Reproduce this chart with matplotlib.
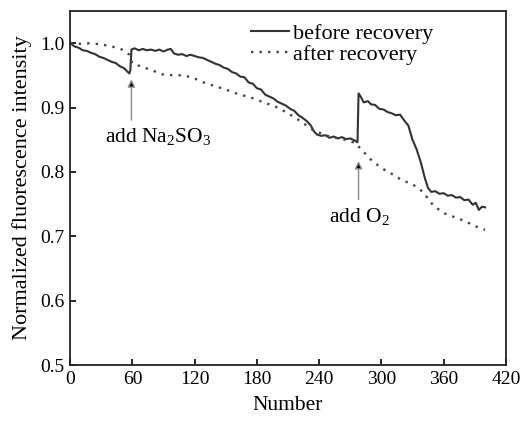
import matplotlib
matplotlib.use("Agg")
import matplotlib.pyplot as plt

plt.rcParams['font.family'] = ['Liberation Serif', 'DejaVu Serif']
plt.rcParams['mathtext.fontset'] = 'custom'
plt.rcParams['mathtext.rm'] = 'Liberation Serif'
plt.rcParams['mathtext.default'] = 'regular'

# --- data ---
before_n = [0, 4, 8, 12, 16, 20, 24, 28, 32, 36, 40, 44, 48, 52, 55, 57, 58, 59, 62,
            66, 70, 74, 78, 82, 86, 90, 94, 97, 100, 104, 108, 112, 116, 120, 124,
            128, 132, 136, 140, 144, 148, 152, 156, 160, 164, 168, 172, 176, 180,
            184, 188, 192, 196, 200, 204, 208, 212, 216, 220, 224, 228, 232, 235,
            238, 242, 246, 250, 254, 258, 262, 266, 270, 274, 277, 278, 280, 283,
            287, 290, 294, 298, 302, 306, 310, 314, 318, 322, 326, 330, 334, 338,
            342, 345, 348, 352, 356, 360, 364, 368, 372, 376, 380, 384, 388, 391,
            394, 397, 400]
before_v = [1.000, 0.995, 0.993, 0.989, 0.988, 0.985, 0.983, 0.979, 0.977, 0.974,
            0.971, 0.969, 0.964, 0.961, 0.956, 0.953, 0.958, 0.990, 0.992,
            0.989, 0.991, 0.989, 0.990, 0.988, 0.990, 0.987, 0.990, 0.991, 0.984,
            0.982, 0.983, 0.980, 0.982, 0.980, 0.978, 0.977, 0.974, 0.971, 0.968,
            0.966, 0.962, 0.960, 0.955, 0.953, 0.948, 0.947, 0.939, 0.937, 0.930,
            0.928, 0.920, 0.917, 0.914, 0.909, 0.906, 0.903, 0.898, 0.895, 0.888,
            0.884, 0.879, 0.872, 0.863, 0.858, 0.856, 0.857, 0.853, 0.855, 0.852,
            0.854, 0.851, 0.852, 0.849, 0.846, 0.922, 0.917, 0.908, 0.910, 0.905,
            0.904, 0.898, 0.897, 0.893, 0.891, 0.888, 0.889, 0.880, 0.872, 0.850,
            0.835, 0.815, 0.790, 0.775, 0.769, 0.770, 0.766, 0.767, 0.763, 0.764,
            0.760, 0.761, 0.756, 0.757, 0.749, 0.752, 0.741, 0.746, 0.745]

after_n = [0, 10, 20, 30, 40, 50, 57, 60, 70, 80, 90, 100, 110, 120, 130, 140, 150,
           160, 175, 190, 200, 210, 220, 235, 250, 265, 275, 280, 290, 300, 310,
           320, 330, 340, 350, 360, 370, 380, 390, 400]
after_v = [1.000, 0.999, 1.000, 0.998, 0.995, 0.990, 0.982, 0.968, 0.963, 0.957,
           0.951, 0.950, 0.950, 0.945, 0.938, 0.933, 0.928, 0.922, 0.915, 0.906,
           0.900, 0.891, 0.881, 0.864, 0.855, 0.850, 0.845, 0.836, 0.819, 0.806,
           0.797, 0.787, 0.781, 0.769, 0.748, 0.736, 0.730, 0.724, 0.716, 0.710]

xticks = [0, 60, 120, 180, 240, 300, 360, 420]
yticks = [0.5, 0.6, 0.7, 0.8, 0.9, 1.0]

fig = plt.figure(figsize=(5.28, 4.22), dpi=100)
ax = fig.add_axes([0.133, 0.135, 0.825, 0.839])

ax.plot(before_n, before_v, color='#333333', linewidth=1.5, label='before recovery')
ax.plot(after_n, after_v, color='#444444', linewidth=1.7,
        linestyle=(0, (1, 2.6)), label='after recovery')

# event markers
arrow = dict(arrowstyle='-|>', ec='#8a8a8a', fc='black', lw=1, mutation_scale=11)
ax.annotate('', xy=(59, 0.948), xytext=(59, 0.876), arrowprops=arrow)
ax.text(85, 0.855, 'add Na$_2$SO$_3$', fontsize=15.5, ha='center', va='center')
ax.annotate('', xy=(278, 0.821), xytext=(278, 0.753), arrowprops=arrow)
ax.text(279, 0.730, 'add O$_2$', fontsize=15.5, ha='center', va='center')

ax.set_xlim(0, 420)
ax.set_ylim(0.5, 1.05)
ax.set_xticks(xticks)
ax.set_yticks(yticks)
ax.set_yticklabels(['%.1f' % v for v in yticks])
ax.tick_params(direction='in', length=4, width=1.2, labelsize=14, pad=4)
for s in ax.spines.values():
    s.set_linewidth(1.3)
    s.set_color('#222222')

ax.set_xlabel('Number', fontsize=15.5, labelpad=6)
ax.set_ylabel('Normalized fluorescence intensity', fontsize=16, labelpad=6)
ax.legend(loc='upper left', frameon=False, fontsize=16, handlelength=1.7,
          handletextpad=0.2, labelspacing=0.0, bbox_to_anchor=(0.395, 0.99),
          borderaxespad=0.0)

fig.savefig('out.png', dpi=100)
